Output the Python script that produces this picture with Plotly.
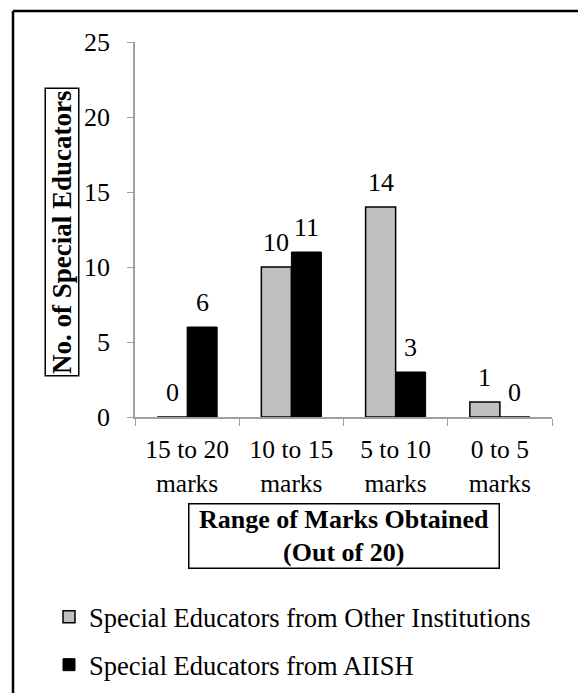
import plotly.graph_objects as go

categories = ["15 to 20<br>marks", "10 to 15<br>marks", "5 to 10<br>marks", "0 to 5<br>marks"]
other_inst = [0, 10, 14, 1]
aiish = [6, 11, 3, 0]
y_ticks = [0, 5, 10, 15, 20, 25]
series_names = ["Special Educators from Other Institutions", "Special Educators from AIISH"]

W, H = 578, 693
L, R, T, B = 135, 26, 42, 276
pw = W - L - R
ph = H - T - B


def px_x(x):
    return (x - L) / pw


def px_y(y):
    return (H - B - y) / ph


serif = "Liberation Serif, Times New Roman, serif"
tick_font = dict(family=serif, size=25.5, color="black")
num_font = dict(family=serif, size=26, color="black")
big = dict(family=serif, size=26.5, color="black")

fig = go.Figure()
fig.add_trace(go.Bar(
    x=categories, y=other_inst, name=series_names[0],
    marker=dict(color="#c0c0c0", line=dict(color="black", width=1.5)),
    legendgroup="a",
))
fig.add_trace(go.Bar(
    x=categories, y=aiish, name=series_names[1],
    marker=dict(color="black", line=dict(color="black", width=1)),
    legendgroup="b",
))

# value labels sit a bit higher above the bars than plotly's outside text
for vals, shift in [(other_inst, -15), (aiish, 15)]:
    for cat, v in zip(categories, vals):
        fig.add_annotation(
            x=cat, y=v, xref="x", yref="y", text=str(v), showarrow=False,
            xshift=shift, yshift=25, xanchor="center", yanchor="middle",
            font=num_font,
        )

fig.update_layout(
    width=W, height=H,
    margin=dict(l=L, r=R, t=T, b=B, autoexpand=False),
    barmode="group", bargap=0.424, bargroupgap=0,
    font=num_font,
    paper_bgcolor="white", plot_bgcolor="white",
    showlegend=True,
    legend=dict(
        xref="container", yref="container",
        x=49 / W, y=1 - 593 / H, xanchor="left", yanchor="top",
        traceorder="grouped", tracegroupgap=10.5,
        font=big, itemwidth=30, bgcolor="rgba(0,0,0,0)",
    ),
)
fig.update_yaxes(
    range=[0, 25], tickvals=y_ticks, showgrid=False, zeroline=False,
    showline=True, linecolor="#a0a0a0", linewidth=1.5,
    ticks="outside", ticklen=6, tickcolor="#a0a0a0", tickfont=num_font,
    ticklabelstandoff=12,
)
fig.update_xaxes(
    showgrid=False, showline=True, linecolor="#a0a0a0", linewidth=1.5,
    ticks="outside", ticklen=7, tickcolor="#a0a0a0", tickson="boundaries",
    tickfont=tick_font, ticklabelstandoff=9,
)

fig.add_annotation(
    text="<b>No. of Special Educators</b>", textangle=-90,
    xref="paper", yref="paper", x=px_x(62.5), y=px_y(232),
    xanchor="center", yanchor="middle",
    showarrow=False, font=dict(family=serif, size=27, color="black"),
    bordercolor="black", borderwidth=1.5, borderpad=1,
)
fig.add_annotation(
    text="<b>Range of Marks Obtained<br>(Out of 20)</b>",
    xref="paper", yref="paper", x=px_x(343.5), y=px_y(536),
    xanchor="center", yanchor="middle",
    showarrow=False, font=dict(family=serif, size=26, color="black"),
    bordercolor="black", borderwidth=1.5, borderpad=0, width=309,
)
# outer frame: only the top and left edges fall inside the picture
fig.add_shape(
    type="line", xref="paper", yref="paper",
    x0=px_x(13), x1=px_x(580), y0=px_y(11), y1=px_y(11),
    line=dict(color="black", width=2.5),
)
fig.add_shape(
    type="line", xref="paper", yref="paper",
    x0=px_x(13), x1=px_x(13), y0=px_y(11), y1=px_y(700),
    line=dict(color="black", width=2.5),
)

fig.write_html(
    "out.html",
    config={"displayModeBar": False},
    post_script="document.body.style.margin='0';document.body.style.overflow='hidden';",
)
